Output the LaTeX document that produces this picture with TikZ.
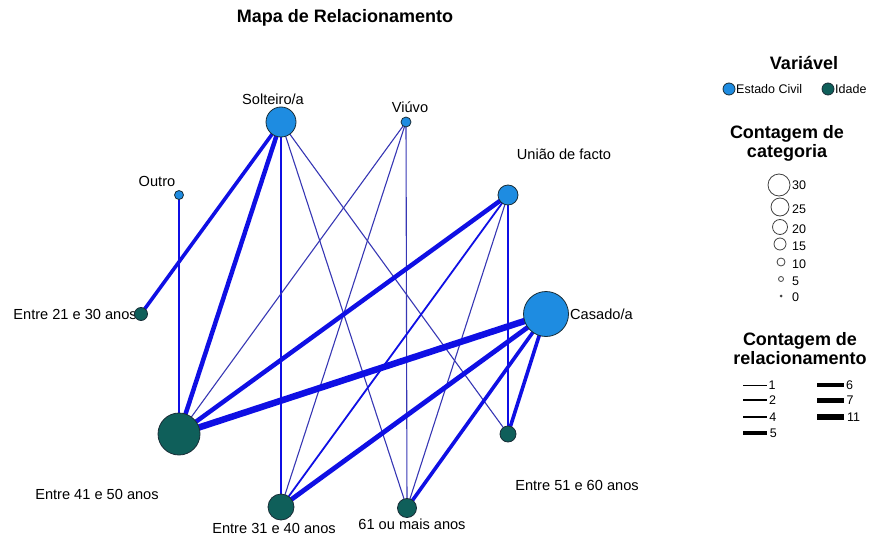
\documentclass[tikz,border=0pt]{standalone}
\usepackage{fontspec}
\setmainfont{Liberation Sans}
\usetikzlibrary{backgrounds}
\definecolor{civilblue}{RGB}{30,140,225}
\definecolor{idadegreen}{RGB}{15,95,90}
\definecolor{noderim}{RGB}{25,45,55}
\definecolor{relblue}{RGB}{15,15,228}
\definecolor{relthin}{RGB}{55,55,180}
\begin{document}
\begin{tikzpicture}[x=1pt,y=-1pt,
  civil/.style={circle,draw=noderim,line width=.8pt,fill=civilblue,inner sep=0pt,minimum size=#1},
  idade/.style={circle,draw=noderim,line width=.8pt,fill=idadegreen,inner sep=0pt,minimum size=#1},
  lbl/.style={font=\fontsize{14.6}{16}\selectfont,inner sep=0pt},
  leg/.style={font=\fontsize{12.5}{14}\selectfont,anchor=west,inner sep=0pt},
  legtitle/.style={font=\bfseries\fontsize{18}{20}\selectfont,inner sep=0pt},
  size/.style={circle,draw=black!75,line width=.8pt,inner sep=0pt,minimum size=#1},
  rel/.style={draw=relblue,line width=#1},
  relone/.style={draw=relthin,line width=1.1pt}]
\useasboundingbox (0,0) rectangle (870,535);

\node[legtitle] (titulo) at (345,18) {Mapa de Relacionamento};

% labels
\node[lbl] (lsol) at (273,99) {Solteiro/a};
\node[lbl] (lviu) at (410,107) {Viúvo};
\node[lbl] (lout) at (157,181) {Outro};
\node[lbl] (luni) at (564,154) {União de facto};
\node[lbl,anchor=west] (lcas) at (570,314) {Casado/a};
\node[lbl,anchor=east] (l2130) at (137,314) {Entre 21 e 30 anos};
\node[lbl] (l4150) at (97,494) {Entre 41 e 50 anos};
\node[lbl] (l3140) at (274,528) {Entre 31 e 40 anos};
\node[lbl] (l61) at (412,524) {61 ou mais anos};
\node[lbl] (l5160) at (577,485) {Entre 51 e 60 anos};

% categories
\node[civil=30pt] (sol) at (281,122) {};
\node[civil=10pt] (viu) at (406,122) {};
\node[civil=9pt] (out) at (179,195) {};
\node[civil=20pt] (uni) at (508,195) {};
\node[civil=45pt] (cas) at (546,314) {};
\node[idade=13pt] (e2130) at (141,314) {};
\node[idade=42pt] (e4150) at (179,434) {};
\node[idade=26pt] (e3140) at (281,507) {};
\node[idade=19pt] (m61) at (407,508) {};
\node[idade=16pt] (e5160) at (508,434) {};

\begin{scope}[on background layer]
\draw[rel=3.6pt] (sol.center) -- (e2130.center);
\draw[rel=4.5pt] (sol.center) -- (e4150.center);
\draw[rel=2.2pt] (sol.center) -- (e3140.center);
\draw[relone] (sol.center) -- (m61.center);
\draw[relone] (sol.center) -- (e5160.center);
\draw[relone] (viu.center) -- (e4150.center);
\draw[relone] (viu.center) -- (e3140.center);
\draw[relone] (viu.center) -- (m61.center);
\draw[rel=1.2pt] (out.center) -- (e4150.center);
\draw[rel=4.5pt] (uni.center) -- (e4150.center);
\draw[rel=1.8pt] (uni.center) -- (e3140.center);
\draw[relone] (uni.center) -- (m61.center);
\draw[rel=1.2pt] (uni.center) -- (e5160.center);
\draw[rel=6.5pt] (cas.center) -- (e4150.center);
\draw[rel=4.8pt] (cas.center) -- (e3140.center);
\draw[rel=3.6pt] (cas.center) -- (m61.center);
\draw[rel=3.6pt] (cas.center) -- (e5160.center);
\end{scope}

% legend: variavel
\node[legtitle] (tvar) at (804,63) {Variável};
\node[civil=12pt] (kciv) at (729,89) {};
\node[leg] (tciv) at (736,89) {Estado Civil};
\node[idade=12pt] (kida) at (828,89) {};
\node[leg] (tida) at (835,89) {Idade};

% legend: contagem de categoria
\node[legtitle] (tcat1) at (787,134) {Contagem de};
\node[legtitle] (tcat2) at (787,153) {categoria};
\node[size=22pt] (s30) at (779,185) {};
\node[leg] at (792,185) {30};
\node[size=18pt] (s25) at (780,207) {};
\node[leg] at (792,209) {25};
\node[size=15pt] (s20) at (780,227) {};
\node[leg] at (792,229) {20};
\node[size=12pt] (s15) at (780,244) {};
\node[leg] at (792,246) {15};
\node[size=8pt] (s10) at (781,262) {};
\node[leg] at (792,264) {10};
\node[size=5pt] (s5) at (781,279) {};
\node[leg] at (792,281) {5};
\node[circle,fill=black!75,inner sep=0pt,minimum size=3pt] (s0) at (781,296) {};
\node[leg] at (792,297) {0};

% legend: contagem de relacionamento
\node[legtitle] (trel1) at (800,341) {Contagem de};
\node[legtitle] (trel2) at (800,358) {relacionamento};
\draw[line width=1pt] (743,385) -- (767,385) node[leg,right=1pt] {1};
\draw[line width=2pt] (743,400) -- (767,400) node[leg,right=1pt] {2};
\draw[line width=2.6pt] (743,417) -- (767,417) node[leg,right=1pt] {4};
\draw[line width=3.8pt] (743,433) -- (767,433) node[leg,right=1pt] {5};
\draw[line width=4.4pt] (817,385) -- (844,385) node[leg,right=0pt] {6};
\draw[line width=5pt] (817,400) -- (844,400) node[leg,right=0pt] {7};
\draw[line width=6.4pt] (817,417) -- (844,417) node[leg,right=0pt] {11};
\end{tikzpicture}
\end{document}
